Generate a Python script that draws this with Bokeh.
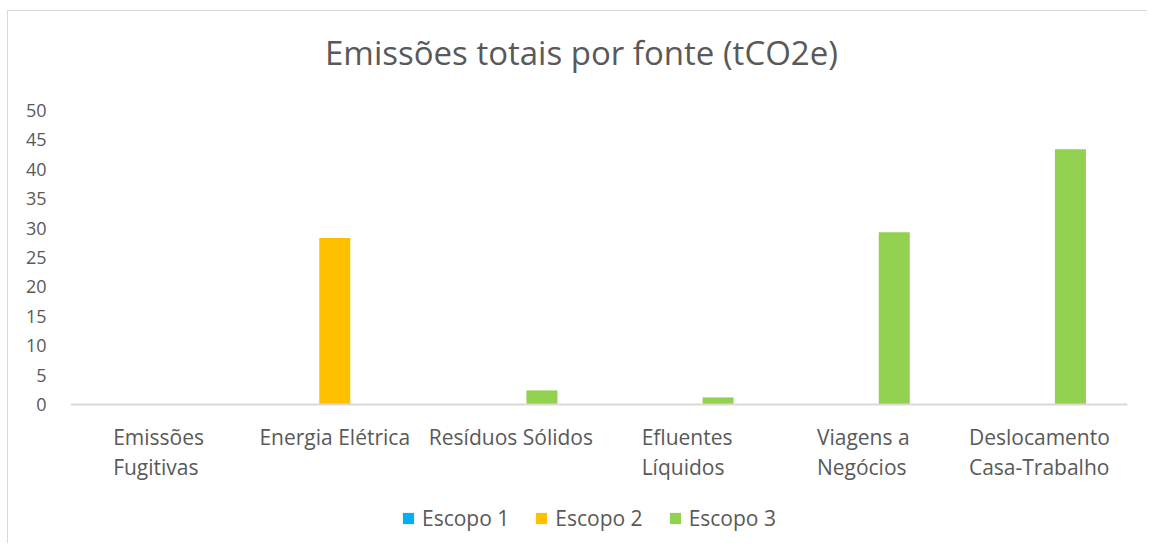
from bokeh.plotting import figure
from bokeh.models import (ColumnDataSource, FactorRange, Range1d, Legend, LegendItem,
                          FixedTicker, Label, LabelSet, Span)
from bokeh.core.properties import value
from bokeh.transform import dodge
from bokeh.embed import file_html
from bokeh.resources import INLINE

# ---- data ----
title_text = "Emissões totais por fonte (tCO2e)"
categories = ["Emissões Fugitivas", "Energia Elétrica", "Resíduos Sólidos",
              "Efluentes Líquidos", "Viagens a Negócios", "Deslocamento Casa-Trabalho"]
tick_labels = ["Emissões\nFugitivas", "Energia Elétrica", "Resíduos Sólidos",
               "Efluentes\nLíquidos", "Viagens a\nNegócios", "Deslocamento\nCasa-Trabalho"]
series_names = ["Escopo 1", "Escopo 2", "Escopo 3"]
escopo1 = [0, 0, 0, 0, 0, 0]
escopo2 = [0, 28.3, 0, 0, 0, 0]
escopo3 = [0, 0, 2.4, 1.2, 29.3, 43.4]
y_ticks = [0, 5, 10, 15, 20, 25, 30, 35, 40, 45, 50]
colors = ["#00B0F0", "#FFC000", "#92D050"]

FONT = "Open Sans"
TXT = "#595959"

# ---- layout constants (pixels; canvas shifted by the chart border) ----
OX, OY = 8, 11
W, H = 1148 - OX, 544 - OY
LEFT, RIGHT = 70 - OX, 1127 - OX
AXTOP, ZERO, BOTTOM = 110 - OY, 404 - OY, 540 - OY
px_per_unit = (ZERO - AXTOP) / 50.0
y_start = -(BOTTOM - ZERO) / px_per_unit
y_end = ZERO / px_per_unit
px_per_cat = (RIGHT - LEFT) / len(categories)
title_x = (581 - OX - LEFT) / px_per_cat
title_y = (ZERO - (52 - OY)) / px_per_unit

source = ColumnDataSource(dict(cat=categories, e1=escopo1, e2=escopo2, e3=escopo3,
                               lbl=tick_labels, zero=[0] * len(categories)))

p = figure(width=W, height=H, output_backend="svg", toolbar_location=None,
           x_range=FactorRange(*categories), y_range=Range1d(y_start, y_end),
           min_border_left=LEFT, min_border_right=W - RIGHT, min_border_top=0,
           min_border_bottom=H - BOTTOM)
p.styles = {"margin-left": f"{OX - 1}px", "margin-top": f"{OY - 1}px",
            "border-left": "1px solid #d9d9d9", "border-top": "1px solid #d9d9d9"}

p.add_layout(Label(x=title_x, y=title_y, text=title_text, text_align="center",
                   text_baseline="alphabetic", text_font=FONT, text_font_size="33px",
                   text_color=TXT))

bw = 0.176
renderers = []
for i, (col, name) in enumerate(zip(["e1", "e2", "e3"], series_names)):
    r = p.vbar(x=dodge("cat", (i - 1) * bw, range=p.x_range), top=col, width=bw,
               source=source, color=colors[i], line_color=None)
    renderers.append(r)

# category axis line at zero
p.add_layout(Span(location=0, dimension="width", line_color="#d9d9d9", line_width=2))

labels = LabelSet(x="cat", y="zero", text="lbl", source=source, y_offset=-18,
                  text_align="center", text_baseline="top", text_font=value(FONT),
                  text_font_size=value("21px"), text_color=TXT, text_line_height=1.1)
p.add_layout(labels)

legend = Legend(items=[LegendItem(label=n, renderers=[r]) for n, r in zip(series_names, renderers)],
                orientation="horizontal", location=(331, 8),
                label_text_font=FONT, label_text_font_size="21px", label_text_color=TXT,
                glyph_width=14, glyph_height=14, spacing=25, label_standoff=7,
                border_line_color=None, background_fill_alpha=0, padding=0, margin=0)
p.add_layout(legend)

p.xgrid.grid_line_color = None
p.ygrid.grid_line_color = None
p.outline_line_color = None
p.xaxis.visible = False

p.yaxis.ticker = FixedTicker(ticks=y_ticks)
p.yaxis.axis_line_color = None
p.yaxis.major_tick_line_color = None
p.yaxis.minor_tick_line_color = None
p.yaxis.major_label_text_font = FONT
p.yaxis.major_label_text_font_size = "18px"
p.yaxis.major_label_text_color = TXT
p.yaxis.major_label_standoff = 18

open("out.html", "w").write(file_html(p, INLINE))
